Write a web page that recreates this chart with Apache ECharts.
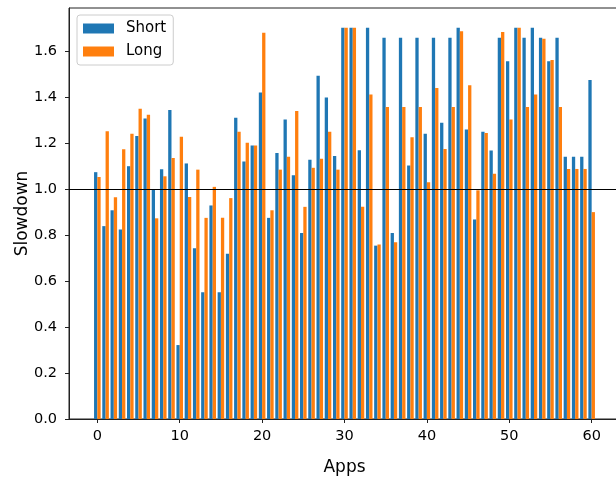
<!DOCTYPE html>
<html>
<head>
<meta charset="utf-8">
<script src="https://cdn.jsdelivr.net/npm/echarts@6/dist/echarts.min.js"></script>
<style>
  html, body { margin: 0; padding: 0; background: #fff; }
  #chart { width: 616px; height: 479px; }
</style>
</head>
<body>
<div id="chart"></div>
<script>
// app index 0..60
const apps = Array.from({length: 61}, (_, i) => i);

const shortVals = [
  1.075, 0.84, 0.909, 0.825, 1.101, 1.232, 1.309, 1.0, 1.088, 1.346,
  0.322, 1.113, 0.744, 0.552, 0.93, 0.552, 0.72, 1.312, 1.121, 1.191,
  1.422, 0.876, 1.159, 1.304, 1.062, 0.81, 1.129, 1.495, 1.4, 1.145,
  1.704, 1.704, 1.171, 1.704, 0.755, 1.66, 0.81, 1.66, 1.104, 1.66,
  1.242, 1.66, 1.29, 1.66, 1.704, 1.261, 0.869, 1.251, 1.169, 1.66,
  1.558, 1.704, 1.66, 1.704, 1.66, 1.558, 1.66, 1.142, 1.142, 1.142,
  1.476
];

const longVals = [
  1.054, 1.253, 0.966, 1.175, 1.242, 1.351, 1.325, 0.874, 1.057, 1.137,
  1.229, 0.967, 1.086, 0.876, 1.011, 0.876, 0.962, 1.251, 1.203, 1.191,
  1.682, 0.909, 1.086, 1.142, 1.341, 0.924, 1.094, 1.133, 1.251, 1.086,
  1.704, 1.704, 0.924, 1.413, 0.76, 1.359, 0.77, 1.359, 1.227, 1.359,
  1.031, 1.442, 1.176, 1.359, 1.689, 1.454, 0.996, 1.246, 1.068, 1.686,
  1.304, 1.704, 1.359, 1.413, 1.656, 1.563, 1.359, 1.089, 1.089, 1.089,
  0.901
];

const xTicks = [0, 10, 20, 30, 40, 50, 60];
const yTicks = [0, 0.2, 0.4, 0.6, 0.8, 1.0, 1.2, 1.4, 1.6];

const font = 'DejaVu Sans';
const myChart = echarts.init(document.getElementById('chart'));

myChart.setOption({
  animation: false,
  grid: {
    left: 69, top: 8, width: 551, height: 411,
    outerBoundsMode: 'none',
    containLabel: false,
    show: true, borderColor: '#222', borderWidth: 1
  },
  legend: {
    orient: 'vertical',
    left: 77, top: 15,
    icon: 'rect',
    itemWidth: 31, itemHeight: 10,
    itemGap: 8,
    padding: [6, 7, 6, 6],
    borderColor: '#ccc', borderWidth: 1, borderRadius: 3,
    backgroundColor: 'rgba(255,255,255,0.8)',
    textStyle: { fontFamily: font, fontSize: 15, color: '#000', lineHeight: 15, padding: [0, 0, 0, 7] },
    data: ['Short', 'Long']
  },
  xAxis: {
    type: 'value',
    min: -3.44, max: 63.44,
    name: 'Apps',
    nameLocation: 'middle',
    nameGap: 40,
    nameMoveOverlap: false,
    nameTextStyle: { fontFamily: font, fontSize: 17, color: '#000' },
    splitLine: { show: false },
    axisLine: { show: true, onZero: false, lineStyle: { color: '#222', width: 1 } },
    axisTick: { show: true, length: 4, customValues: xTicks, lineStyle: { color: '#222' } },
    axisLabel: { customValues: xTicks, fontFamily: font, fontSize: 14.5, color: '#000', margin: 10 }
  },
  yAxis: {
    type: 'value',
    min: 0, max: 1.79,
    name: 'Slowdown',
    nameLocation: 'middle',
    nameRotate: 90,
    nameGap: 38,
    nameMoveOverlap: false,
    nameTextStyle: { fontFamily: font, fontSize: 17, color: '#000' },
    splitLine: { show: false },
    axisLine: { show: true, onZero: false, lineStyle: { color: '#222', width: 1 } },
    axisTick: { show: true, length: 4, customValues: yTicks, lineStyle: { color: '#222' } },
    axisLabel: {
      customValues: yTicks, fontFamily: font, fontSize: 14.5, color: '#000', margin: 12,
      formatter: v => v.toFixed(1)
    }
  },
  series: [
    {
      name: 'Short',
      type: 'bar',
      barWidth: '40%',
      barGap: '0%',
      itemStyle: { color: '#1f77b4' },
      data: apps.map((a, i) => [a, shortVals[i]])
    },
    {
      name: 'Long',
      type: 'bar',
      barWidth: '40%',
      barGap: '0%',
      itemStyle: { color: '#ff7f0e' },
      data: apps.map((a, i) => [a, longVals[i]]),
      markLine: {
        silent: true,
        symbol: 'none',
        label: { show: false },
        lineStyle: { color: '#000', type: 'solid', width: 1.2 },
        data: [{ yAxis: 1 }]
      }
    }
  ]
});

window.onresize = function () {
  myChart.resize();
};
</script>
</body>
</html>
